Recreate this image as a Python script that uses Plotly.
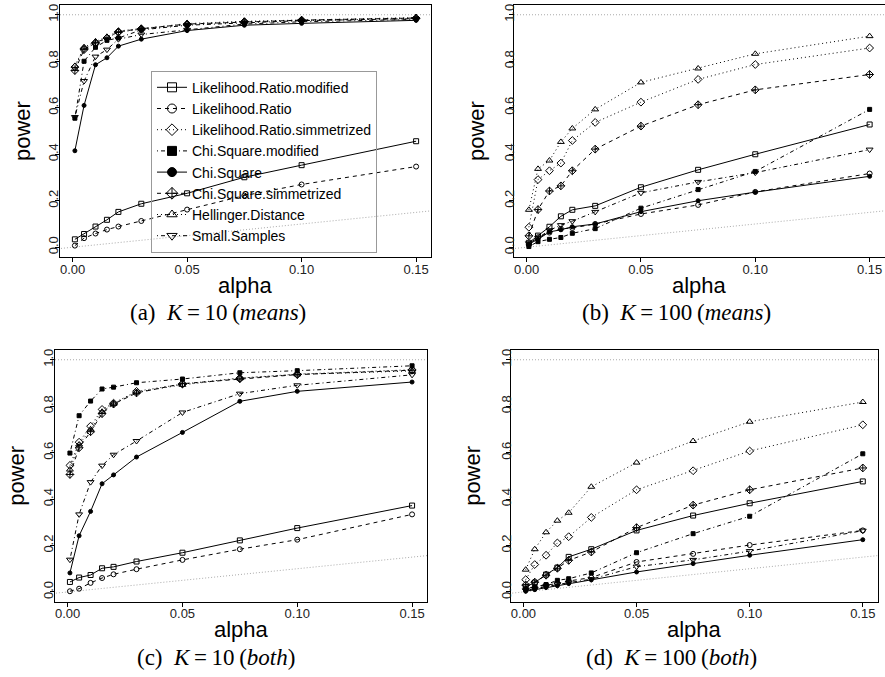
import plotly.graph_objects as go

W, H = 885, 677

# ---------------- data ----------------
alpha = [0.001, 0.005, 0.01, 0.015, 0.02, 0.03, 0.05, 0.075, 0.1, 0.15]

names = ["Likelihood.Ratio.modified", "Likelihood.Ratio", "Likelihood.Ratio.simmetrized",
         "Chi.Square.modified", "Chi.Square", "Chi.Square.simmetrized",
         "Hellinger.Distance", "Small.Samples"]

# (a) K = 10 (means)
a_LRm = [0.034, 0.057, 0.089, 0.118, 0.152, 0.187, 0.232, 0.301, 0.353, 0.456]
a_LR  = [0.007, 0.039, 0.059, 0.076, 0.089, 0.113, 0.162, 0.222, 0.270, 0.347]
a_LRs = [0.775, 0.855, 0.875, 0.900, 0.925, 0.938, 0.957, 0.970, 0.976, 0.985]
a_CSm = [0.555, 0.800, 0.860, 0.890, 0.900, 0.935, 0.955, 0.965, 0.975, 0.983]
a_CS  = [0.415, 0.610, 0.785, 0.815, 0.865, 0.895, 0.932, 0.955, 0.963, 0.976]
a_CSs = [0.760, 0.850, 0.880, 0.900, 0.927, 0.940, 0.960, 0.970, 0.977, 0.986]
a_HD  = [0.780, 0.860, 0.885, 0.905, 0.930, 0.940, 0.962, 0.972, 0.978, 0.988]
a_SS  = [0.560, 0.715, 0.820, 0.850, 0.895, 0.915, 0.935, 0.960, 0.970, 0.980]

# (b) K = 100 (means)
b_LRm = [0.019, 0.050, 0.088, 0.133, 0.161, 0.178, 0.258, 0.333, 0.400, 0.528]
b_LR  = [0.010, 0.043, 0.063, 0.079, 0.083, 0.100, 0.143, 0.182, 0.238, 0.317]
b_LRs = [0.086, 0.291, 0.329, 0.362, 0.459, 0.537, 0.624, 0.722, 0.786, 0.857]
b_CSm = [0.003, 0.024, 0.034, 0.042, 0.060, 0.080, 0.168, 0.248, 0.326, 0.593]
b_CS  = [0.014, 0.034, 0.066, 0.075, 0.088, 0.100, 0.153, 0.200, 0.237, 0.305]
b_CSs = [0.049, 0.162, 0.242, 0.264, 0.329, 0.422, 0.521, 0.613, 0.677, 0.743]
b_HD  = [0.161, 0.337, 0.373, 0.453, 0.511, 0.593, 0.709, 0.769, 0.832, 0.908]
b_SS  = [0.017, 0.040, 0.073, 0.095, 0.112, 0.152, 0.234, 0.281, 0.321, 0.420]

# (c) K = 10 (both)
c_LRm = [0.043, 0.062, 0.073, 0.102, 0.108, 0.131, 0.169, 0.222, 0.275, 0.372]
c_LR  = [0.003, 0.014, 0.039, 0.060, 0.076, 0.098, 0.138, 0.184, 0.225, 0.334]
c_LRs = [0.545, 0.645, 0.714, 0.786, 0.813, 0.864, 0.895, 0.921, 0.938, 0.957]
c_CSm = [0.598, 0.759, 0.822, 0.874, 0.882, 0.901, 0.917, 0.944, 0.953, 0.974]
c_CS  = [0.082, 0.242, 0.347, 0.466, 0.504, 0.581, 0.687, 0.821, 0.864, 0.904]
c_CSs = [0.506, 0.621, 0.690, 0.768, 0.809, 0.857, 0.897, 0.918, 0.936, 0.955]
c_HD  = [0.527, 0.635, 0.700, 0.776, 0.810, 0.860, 0.892, 0.920, 0.937, 0.952]
c_SS  = [0.139, 0.334, 0.473, 0.544, 0.591, 0.650, 0.773, 0.854, 0.890, 0.935]

# (d) K = 100 (both)
d_LRm = [0.022, 0.040, 0.075, 0.105, 0.151, 0.184, 0.265, 0.329, 0.382, 0.476]
d_LR  = [0.010, 0.017, 0.030, 0.036, 0.047, 0.062, 0.129, 0.164, 0.202, 0.265]
d_LRs = [0.053, 0.118, 0.158, 0.211, 0.238, 0.321, 0.440, 0.522, 0.607, 0.720]
d_CSm = [0.014, 0.022, 0.032, 0.050, 0.057, 0.082, 0.169, 0.251, 0.326, 0.595]
d_CS  = [0.003, 0.010, 0.019, 0.027, 0.036, 0.052, 0.086, 0.122, 0.158, 0.225]
d_CSs = [0.030, 0.042, 0.072, 0.102, 0.136, 0.172, 0.277, 0.374, 0.440, 0.534]
d_HD  = [0.096, 0.184, 0.257, 0.307, 0.341, 0.453, 0.557, 0.650, 0.733, 0.818]
d_SS  = [0.007, 0.014, 0.024, 0.033, 0.040, 0.055, 0.109, 0.138, 0.176, 0.264]

panels = [
    ("(a)", "10", "means", [a_LRm, a_LR, a_LRs, a_CSm, a_CS, a_CSs, a_HD, a_SS]),
    ("(b)", "100", "means", [b_LRm, b_LR, b_LRs, b_CSm, b_CS, b_CSs, b_HD, b_SS]),
    ("(c)", "10", "both", [c_LRm, c_LR, c_LRs, c_CSm, c_CS, c_CSs, c_HD, c_SS]),
    ("(d)", "100", "both", [d_LRm, d_LR, d_LRs, d_CSm, d_CS, d_CSs, d_HD, d_SS]),
]

x_ticks = [0.0, 0.05, 0.10, 0.15]
y_ticks = [0.0, 0.2, 0.4, 0.6, 0.8, 1.0]

# ---------------- styles ----------------
DASHED = "4px,4px"
DOTTED = "1px,3px"
DOTDASH = "1px,3px,4px,3px"
styles = [
    dict(dash="solid", sym="square-open", ms=5),
    dict(dash=DASHED, sym="circle-open", ms=5),
    dict(dash=DOTTED, sym="diamond-open", ms=6),
    dict(dash=DOTDASH, sym="square", ms=4),
    dict(dash="solid", sym="circle", ms=4),
    dict(dash=DASHED, sym="diamond-cross-open", ms=6),
    dict(dash=DOTTED, sym="triangle-up-open", ms=6),
    dict(dash=DOTDASH, sym="triangle-down-open", ms=6),
]

# frames in pixels: (left, right, top, bottom)
frames = [
    (60, 431, 5, 257),
    (514, 884.5, 5, 257),
    (55, 427, 350, 601.7),
    (511, 877.5, 350, 601.7),
]
ylab_standoff = [-8, -10, -8, -10]
xr = [-0.0055, 0.1565]
yr = [-0.042, 1.042]

fig = go.Figure()
layout = dict()
annotations = []
shapes = []

AX_FONT = dict(family="Liberation Sans, Arial, sans-serif", size=13, color="#222")

for i, (lab, K, kind, data) in enumerate(panels):
    l, r, t, b = frames[i]
    n = "" if i == 0 else str(i + 1)
    xa, ya = "x" + n, "y" + n
    layout["xaxis" + n] = dict(
        domain=[l / W, r / W], anchor=ya, range=xr, tickvals=x_ticks,
        tickformat=".2f", showgrid=False, zeroline=False, showline=True,
        mirror=True, linecolor="black", linewidth=1, ticks="outside",
        ticklen=4, tickcolor="black", tickfont=AX_FONT, ticklabelstandoff=-4,
    )
    layout["yaxis" + n] = dict(
        domain=[1 - b / H, 1 - t / H], anchor=xa, range=yr, tickvals=y_ticks,
        tickformat=".1f", tickangle=-90, showgrid=False, zeroline=False,
        showline=True, mirror=True, linecolor="black", linewidth=1,
        ticks="outside", ticklen=4, tickcolor="black", tickfont=AX_FONT,
        ticklabelstandoff=ylab_standoff[i],
    )
    # reference lines: power = 1 and power = alpha
    shapes.append(dict(type="line", xref=xa + " domain", yref=ya, x0=0, x1=1,
                       y0=1, y1=1, line=dict(color="#aaaaaa", width=1, dash="1px,2px")))
    fig.add_trace(go.Scatter(x=[xr[0] - 0.01, xr[1] + 0.01], y=[xr[0] - 0.01, xr[1] + 0.01],
                             mode="lines", xaxis=xa, yaxis=ya, showlegend=False,
                             hoverinfo="skip",
                             line=dict(color="#aaaaaa", width=1, dash="1px,2px")))
    for s, (name, vals) in enumerate(zip(names, data)):
        st = styles[s]
        fig.add_trace(go.Scatter(
            x=alpha, y=vals, mode="lines+markers", name=name, xaxis=xa, yaxis=ya,
            showlegend=False,
            line=dict(color="black", width=1, dash=st["dash"]),
            marker=dict(symbol=st["sym"], size=st["ms"], color="black",
                        line=dict(color="black", width=1)),
        ))
    cx = (l + r) / 2
    annotations.append(dict(text="alpha", x=cx / W, y=1 - (b + 28) / H, xref="paper",
                            yref="paper", showarrow=False, xanchor="center", yanchor="middle",
                            font=dict(family="Liberation Sans, Arial, sans-serif", size=22,
                                      color="black")))
    annotations.append(dict(text="power", x=(l - 38) / W, y=1 - ((t + b) / 2) / H,
                            xref="paper", yref="paper", showarrow=False, textangle=-90,
                            xanchor="center", yanchor="middle",
                            font=dict(family="Liberation Sans, Arial, sans-serif", size=22,
                                      color="black")))
    capx = [218, 676, 216, 671][i]
    annotations.append(dict(text=f"{lab}\u2002<i>K</i>\u2009=\u2009{K}\u2009(<i>{kind}</i>)",
                            x=capx / W, y=1 - (b + 56) / H, xref="paper", yref="paper",
                            showarrow=False, xanchor="center", yanchor="middle",
                            font=dict(family="Liberation Serif, Times New Roman, serif",
                                      size=23, color="black")))

# legend-only entries (bigger symbols, as in the reference legend)
for s, name in enumerate(names):
    st = styles[s]
    fig.add_trace(go.Scatter(
        x=[None], y=[None], mode="lines+markers", name=name, xaxis="x", yaxis="y",
        showlegend=True,
        line=dict(color="black", width=1, dash=st["dash"]),
        marker=dict(symbol=st["sym"], size=9, color="black",
                    line=dict(color="black", width=1)),
    ))

fig.update_layout(
    width=W, height=H, margin=dict(l=0, r=0, t=0, b=0),
    paper_bgcolor="white", plot_bgcolor="white",
    showlegend=True,
    legend=dict(x=151 / W, y=1 - 70.7 / H, xanchor="left", yanchor="top",
                bgcolor="rgba(0,0,0,0)", bordercolor="#999999", borderwidth=1,
                font=dict(family="Liberation Sans, Arial, sans-serif", size=14,
                          color="black"),
                tracegroupgap=0),
    annotations=annotations, shapes=shapes,
    **layout,
)

fig.write_html("out.html")
